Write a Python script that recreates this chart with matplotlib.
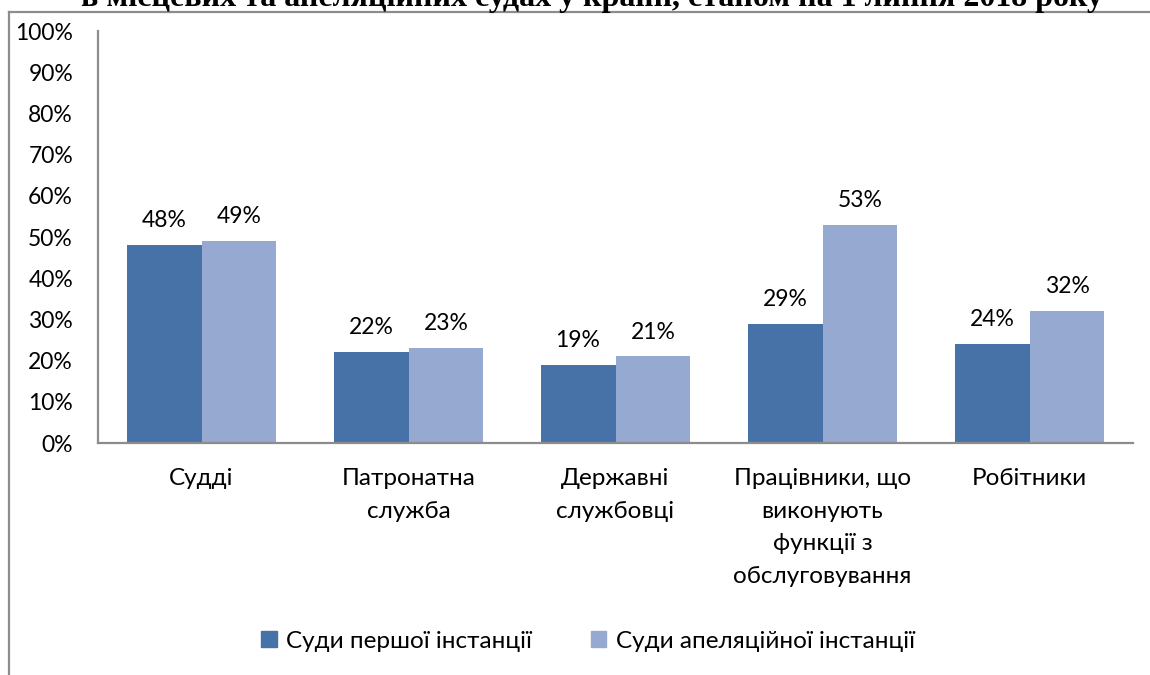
import matplotlib

matplotlib.use("Agg")
import matplotlib.pyplot as plt
import numpy as np
from matplotlib.lines import Line2D
from matplotlib.patches import Rectangle
from matplotlib.ticker import FuncFormatter

plt.rcParams["font.family"] = ["Lato", "Noto Sans", "DejaVu Sans"]

# data
categories = [
    "Судді",
    "Патронатна\nслужба",
    "Державні\nслужбовці",
    "Працівники, що\nвиконують\nфункції з\nобслуговування",
    "Робітники",
]
first_instance = [48, 22, 19, 29, 24]
appeal_instance = [49, 23, 21, 53, 32]
series_names = ["Суди першої інстанції", "Суди апеляційної інстанції"]
title = "в місцевих та апеляційних судах у країні, станом на 1 липня 2018 року"

DARK = "#4672A7"
LIGHT = "#95A9D1"
AXIS_GREY = "#8C8C8C"
FS = 16.5
FS_CAT = 17.5

W, H = 1150, 675
fig = plt.figure(figsize=(W / 100, H / 100), dpi=100)
fig.patch.set_facecolor("white")

# outer chart frame (only left + top visible in the crop)
fig.add_artist(Line2D([8.5 / W, 8.5 / W], [0, 1 - 12 / H], color=AXIS_GREY, lw=1.6))
fig.add_artist(Line2D([8.5 / W, 1], [1 - 12 / H, 1 - 12 / H], color=AXIS_GREY, lw=1.6))

# title, clipped by the top edge of the picture as in the source
fig.text(592 / W, 1 - 6 / H, title, ha="center", va="baseline",
         family="Liberation Serif", weight="bold", fontsize=23)

ax = fig.add_axes([98 / W, 232 / H, (1133 - 98) / W, 412 / H])
x = np.arange(len(categories))
bw = 0.362
b1 = ax.bar(x - bw / 2, first_instance, bw, color=DARK, linewidth=0)
b2 = ax.bar(x + bw / 2, appeal_instance, bw, color=LIGHT, linewidth=0)

for bars in (b1, b2):
    ax.bar_label(bars, labels=[f"{v:g}%" for v in bars.datavalues],
                 padding=10, fontsize=FS)

ax.set_xlim(-0.5, len(categories) - 0.5)
ax.set_ylim(0, 100)
ax.set_yticks(np.arange(0, 101, 10))
ax.yaxis.set_major_formatter(FuncFormatter(lambda v, _: f"{v:.0f}%"))
ax.set_xticks(x)
ax.set_xticklabels(categories, linespacing=1.68, fontsize=FS_CAT)
ax.tick_params(axis="both", length=0)
ax.tick_params(axis="y", labelsize=FS, pad=18)
ax.tick_params(axis="x", pad=18)

for side in ("top", "right"):
    ax.spines[side].set_visible(False)
for side in ("left", "bottom"):
    ax.spines[side].set_color(AXIS_GREY)
    ax.spines[side].set_linewidth(1.6)

handles = [Rectangle((0, 0), 1, 1, color=c) for c in (DARK, LIGHT)]
fig.legend(handles, series_names, loc="center", bbox_to_anchor=(588 / W, 34 / H),
           ncol=2, frameon=False, fontsize=FS_CAT, handlelength=0.65, handleheight=0.65,
           handletextpad=0.4, columnspacing=2.4)

fig.savefig("out.png", dpi=100, facecolor="white")
